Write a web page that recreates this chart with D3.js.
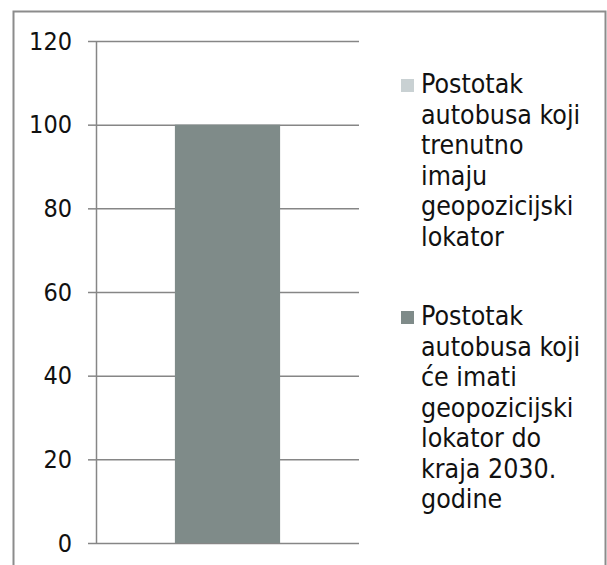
<!DOCTYPE html>
<html>
<head>
<meta charset="utf-8">
<script src="https://cdn.jsdelivr.net/npm/d3@7"></script>
<style>
  body { margin: 0; background: #fff; }
  svg text { font-family: "DejaVu Sans Condensed", "DejaVu Sans", sans-serif; fill: #111; }
</style>
</head>
<body>
<svg id="chart" width="607" height="565"></svg>
<script>
// data
const categories = ["1"];
const seriesNames = [
  ["Postotak", "autobusa koji", "trenutno", "imaju", "geopozicijski", "lokator"],
  ["Postotak", "autobusa koji", "će imati", "geopozicijski", "lokator do", "kraja 2030.", "godine"]
];
const seriesValues = [[0], [100]];
const seriesColors = ["#c9d1d3", "#7f8b89"];
const yTicks = [0, 20, 40, 60, 80, 100, 120];

const svg = d3.select("#chart");

// outer frame (bottom edge is cut off in the original)
svg.append("rect")
  .attr("x", 13.5).attr("y", 11.5)
  .attr("width", 592).attr("height", 600)
  .attr("fill", "none")
  .attr("stroke", "#8c8c8c")
  .attr("stroke-width", 2);

const plot = {left: 96, right: 359, top: 41, bottom: 543};

const y = d3.scaleLinear().domain([0, 120]).range([plot.bottom, plot.top]);
const x = d3.scaleBand().domain(categories).range([plot.left, plot.right]).paddingInner(0).paddingOuter(0);

// y axis with gridlines
svg.append("g")
  .attr("transform", "translate(" + plot.left + ",0)")
  .call(d3.axisLeft(y).tickValues(yTicks).tickSize(8).tickPadding(16).tickFormat(d3.format("d")))
  .call(g => g.select(".domain").attr("stroke", "#868686").attr("stroke-width", 1.5)
    .attr("d", "M0.5," + plot.top + "V" + plot.bottom))
  .call(g => g.selectAll(".tick line").attr("stroke", "#868686").attr("stroke-width", 1.5))
  .call(g => g.selectAll(".tick").append("line")
    .attr("x1", 0).attr("x2", plot.right - plot.left)
    .attr("stroke", "#868686").attr("stroke-width", 1.5))
  .call(g => g.selectAll(".tick text")
    .style("font-size", "25px")
    .style("font-family", "\"DejaVu Sans Condensed\", \"DejaVu Sans\", sans-serif")
    .attr("fill", "#111"));

// bars (series overlap fully, centered in the category)
const barW = x.bandwidth() * 0.4;
seriesValues.forEach((vals, i) => {
  svg.append("g").selectAll("rect")
    .data(vals)
    .join("rect")
    .attr("x", (d, j) => x(categories[j]) + (x.bandwidth() - barW) / 2)
    .attr("y", d => y(d))
    .attr("width", barW)
    .attr("height", d => y(0) - y(d))
    .attr("fill", seriesColors[i]);
});

// legend
const legendTops = [93, 325];
const lineH = 30.5;
seriesNames.forEach((lines, i) => {
  const g = svg.append("g").attr("transform", "translate(401," + legendTops[i] + ")");
  g.append("rect")
    .attr("x", 0).attr("y", -14)
    .attr("width", 13).attr("height", 13)
    .attr("fill", seriesColors[i]);
  const t = g.append("text").attr("x", 20).attr("y", 0).style("font-size", "26.5px");
  lines.forEach((ln, k) => {
    t.append("tspan").attr("x", 20).attr("y", k * lineH).text(ln);
  });
});
</script>
</body>
</html>
